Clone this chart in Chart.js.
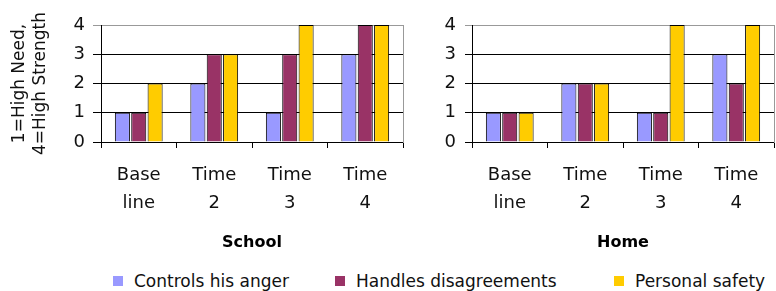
<!DOCTYPE html>
<html>
<head>
<meta charset="utf-8">
<script src="https://cdn.jsdelivr.net/npm/chart.js@4/dist/chart.umd.min.js"></script>
<style>
  body { margin: 0; background: #fff; width: 776px; height: 291px; overflow: hidden; position: relative; font-family: "DejaVu Sans", sans-serif; }
  .box { position: absolute; top: 0; height: 262px; }
  #legend { position: absolute; top: 271px; left: 0; width: 776px; height: 20px; font-size: 17px; color: #111; }
  #legend span.item { position: absolute; top: 0; white-space: nowrap; }
  #legend i { display: inline-block; width: 10px; height: 10px; margin-right: 11px; vertical-align: 1px; }
</style>
</head>
<body>
<div class="box" style="left:0;width:410px"><canvas id="school"></canvas></div>
<div class="box" style="left:410px;width:366px"><canvas id="home"></canvas></div>
<div id="legend"></div>
<script>
let categories = [["Base", "line"], ["Time", "2"], ["Time", "3"], ["Time", "4"]];
let seriesNames = ["Controls his anger", "Handles disagreements", "Personal safety"];
let seriesColors = ["#9999FF", "#993366", "#FFCC00"];
let yTicks = [0, 1, 2, 3, 4];

let schoolAnger = [1, 2, 1, 3];
let schoolDisagree = [1, 3, 3, 4];
let schoolSafety = [2, 3, 4, 4];

let homeAnger = [1, 2, 1, 3];
let homeDisagree = [1, 2, 1, 2];
let homeSafety = [1, 2, 4, 4];

const tickFont = { family: "DejaVu Sans", size: 18 };

function crearChart(id, title, values, opts) {
  let datasets = values.map((v, i) => ({
    label: seriesNames[i],
    data: v,
    backgroundColor: seriesColors[i],
    borderColor: "#000",
    borderWidth: 1,
    categoryPercentage: 0.65,
    barPercentage: 0.92
  }));

  let yAxis = {
    min: yTicks[0],
    max: yTicks[yTicks.length - 1],
    afterBuildTicks: (s) => { s.ticks = yTicks.map(v => ({ value: v })); },
    afterFit: (s) => { s.width = opts.yWidth; },
    ticks: { color: "#111", font: tickFont, padding: opts.tickPad },
    grid: {
      color: (c) => (c.tick && c.tick.value === 4 ? "#999" : "#000"),
      tickLength: opts.tickLen,
      lineWidth: 1
    },
    border: { color: "#000" },
    title: opts.yTitle
      ? { display: true, text: ["1=High Need,", "4=High Strength"], color: "#111",
          font: { family: "DejaVu Sans", size: 17, lineHeight: 1.25 }, padding: { top: 9, bottom: 0 } }
      : { display: false }
  };

  new Chart(document.getElementById(id), {
    type: "bar",
    data: { labels: categories, datasets },
    options: {
      responsive: true,
      maintainAspectRatio: false,
      animation: false,
      layout: { padding: { top: 25, right: opts.padRight, left: 0, bottom: 0 } },
      plugins: { legend: { display: false }, tooltip: { enabled: false } },
      scales: {
        x: {
          afterFit: (s) => { s.height = 120; },
          ticks: { color: "#111", font: { family: "DejaVu Sans", size: 18, lineHeight: 1.55 }, padding: 13, maxRotation: 0 },
          grid: { drawOnChartArea: false, tickLength: 6, color: "#000" },
          border: { color: "#000" },
          title: { display: true, text: title, color: "#000",
                   font: { family: "DejaVu Sans", size: 16, weight: "bold", lineHeight: 1.2 }, padding: { top: 0, bottom: 9.4 } }
        },
        y: yAxis,
        y2: {
          position: "right",
          min: 0, max: 4,
          afterFit: (s) => { s.width = 0; },
          ticks: { display: false },
          grid: { drawOnChartArea: false, drawTicks: false },
          border: { color: "#999" }
        }
      }
    }
  });
}

crearChart("school", "School", [schoolAnger, schoolDisagree, schoolSafety],
  { yWidth: 101, tickPad: 8, tickLen: 8, padRight: 7, yTitle: true });
crearChart("home", "Home", [homeAnger, homeDisagree, homeSafety],
  { yWidth: 62, tickPad: 9, tickLen: 7, padRight: 2, yTitle: false });

// leyenda
let legendPos = [113, 335, 614];
let legend = document.getElementById("legend");
seriesNames.forEach((n, i) => {
  let s = document.createElement("span");
  s.className = "item";
  s.style.left = legendPos[i] + "px";
  s.innerHTML = `<i style="background:${seriesColors[i]}"></i>${n}`;
  legend.appendChild(s);
});
</script>
</body>
</html>
